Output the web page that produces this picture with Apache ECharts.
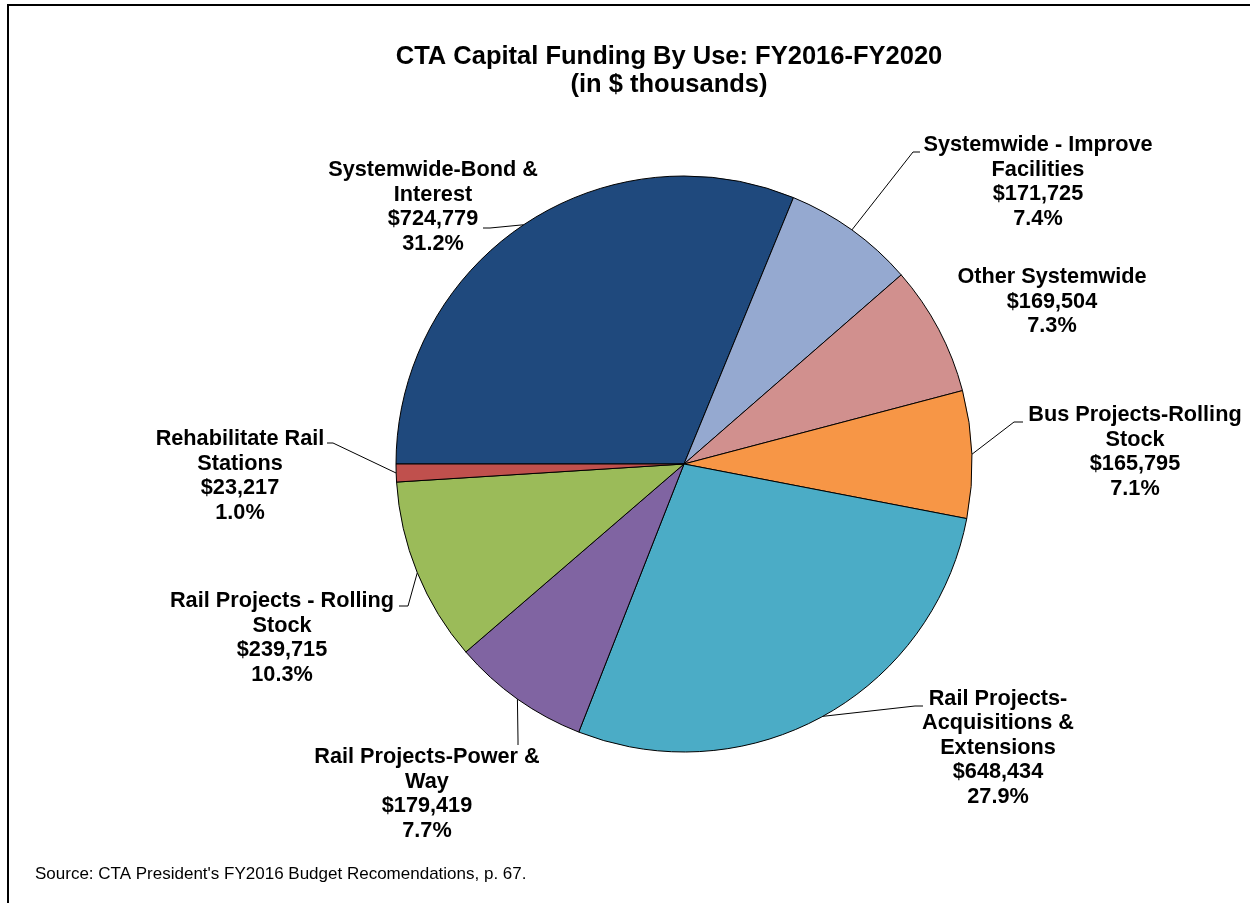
<!DOCTYPE html>
<html>
<head>
<meta charset="utf-8">
<title>CTA Capital Funding By Use</title>
<script src="https://cdn.jsdelivr.net/npm/echarts@6/dist/echarts.min.js"></script>
<style>
  html, body { margin: 0; padding: 0; background: #ffffff; }
  #chart { width: 1250px; height: 903px; }
</style>
</head>
<body>
<div id="chart"></div>
<script>
// slices, clockwise from 9 o'clock
var names = [
  'Systemwide-Bond &\nInterest',
  'Systemwide - Improve\nFacilities',
  'Other Systemwide',
  'Bus Projects-Rolling\nStock',
  'Rail Projects-\nAcquisitions &\nExtensions',
  'Rail Projects-Power &\nWay',
  'Rail Projects - Rolling\nStock',
  'Rehabilitate Rail\nStations'
];
var values = [724779, 171725, 169504, 165795, 648434, 179419, 239715, 23217];
var colors = ['#1f497d', '#95a9d0', '#d1908e', '#f79646', '#4bacc6', '#8064a2', '#9bbb59', '#c0504d'];

// label block centres and leader line ends (layout only)
var labelPos = [[433, 207], [1038, 182], [1052, 302], [1135, 452], [998, 748], [427, 794], [282, 638], [240, 476]];
var leaderEnds = [
  [[490, 228], [483, 228]],
  [[913, 152], [920, 152]],
  null,
  [[1014, 422], [1023, 422]],
  [[915, 706], [923, 706]],
  [[518, 740], [518, 745]],
  [[408, 606], [399, 606]],
  [[333, 443], [327, 443]]
];

var cx = 684, cy = 464, R = 288, startAngle = 180;
var font = '"Liberation Sans", Arial, sans-serif';

var total = values.reduce(function (a, b) { return a + b; }, 0);

// point on the rim at the middle of slice i
function rimPoint(i) {
  var before = 0;
  for (var k = 0; k < i; k++) before += values[k];
  var a = (startAngle - (before + values[i] / 2) / total * 360) * Math.PI / 180;
  return [cx + R * Math.cos(a), cy - R * Math.sin(a)];
}

var chart = echarts.init(document.getElementById('chart'));

var option = {
  animation: false,
  backgroundColor: '#ffffff',
  title: {
    text: 'CTA Capital Funding By Use: FY2016-FY2020\n(in $ thousands)',
    left: 669,
    top: 43,
    padding: 0,
    textAlign: 'center',
    textStyle: {
      fontFamily: font,
      fontWeight: 'bold',
      fontSize: 25.5,
      lineHeight: 28,
      color: '#000'
    }
  },
  graphic: [
    {
      type: 'rect',
      shape: { x: 8, y: 5, width: 1300, height: 1000 },
      style: { fill: 'none', stroke: '#000', lineWidth: 2 },
      silent: true
    },
    {
      type: 'text',
      x: 35,
      y: 874,
      style: {
        text: "Source: CTA President's FY2016 Budget Recomendations, p. 67.",
        fontFamily: font,
        fontSize: 17,
        fill: '#000',
        verticalAlign: 'middle'
      },
      silent: true
    }
  ],
  series: [{
    type: 'pie',
    center: [cx, cy],
    radius: R,
    startAngle: startAngle,
    clockwise: true,
    avoidLabelOverlap: false,
    emphasis: { disabled: true },
    itemStyle: { borderColor: '#000', borderWidth: 1 },
    label: {
      show: true,
      position: 'outside',
      color: '#000',
      fontFamily: font,
      fontWeight: 'bold',
      fontSize: 21.7,
      lineHeight: 24.5,
      align: 'center',
      formatter: function (p) {
        return p.name + '\n$' + p.value.toLocaleString('en-US') + '\n' + (p.value / total * 100).toFixed(1) + '%';
      }
    },
    labelLine: {
      show: true,
      lineStyle: { color: '#000', width: 1 }
    },
    labelLayout: function (p) {
      var i = p.dataIndex;
      var out = {
        x: labelPos[i][0],
        y: labelPos[i][1],
        align: 'center',
        verticalAlign: 'middle'
      };
      if (leaderEnds[i]) {
        out.labelLinePoints = [rimPoint(i), leaderEnds[i][0], leaderEnds[i][1]];
      }
      return out;
    },
    data: names.map(function (n, i) {
      return {
        name: n,
        value: values[i],
        itemStyle: { color: colors[i] },
        labelLine: { show: leaderEnds[i] !== null }
      };
    })
  }]
};

chart.setOption(option);
</script>
</body>
</html>
